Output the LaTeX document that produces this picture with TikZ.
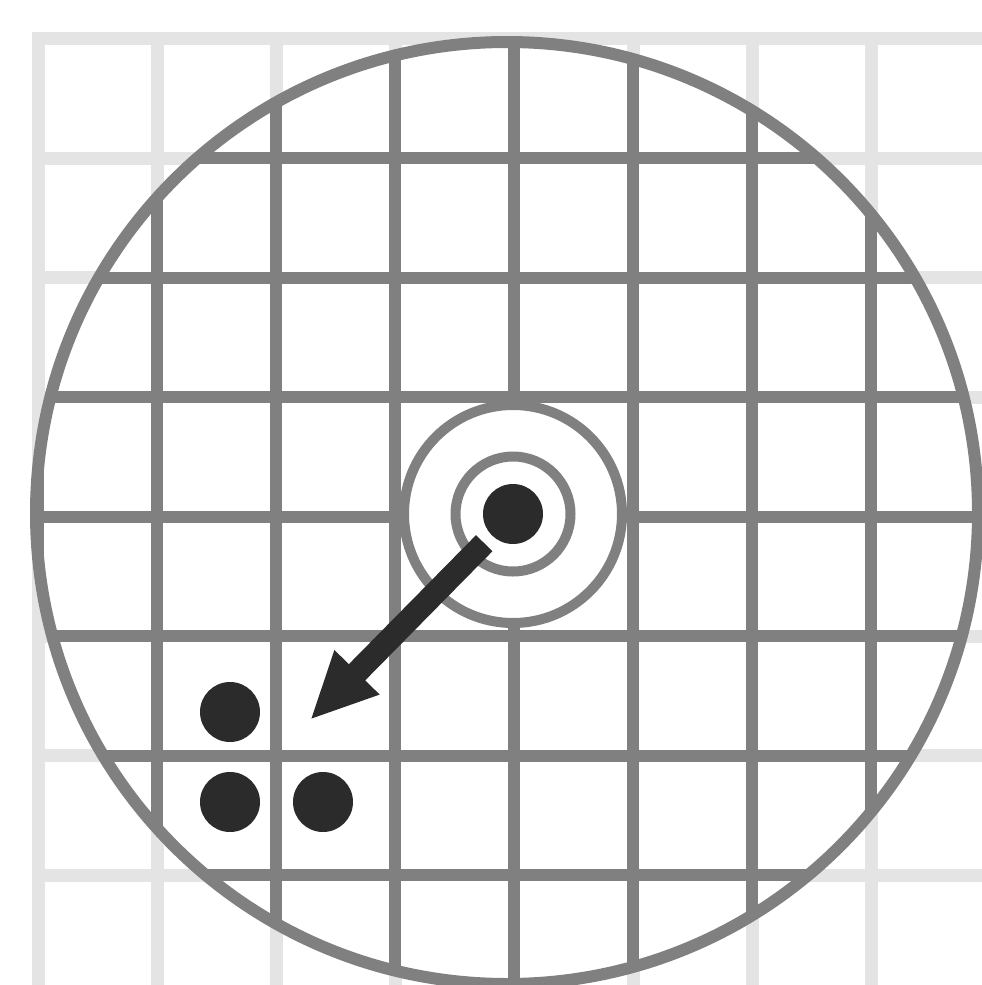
\documentclass[tikz,border=0pt]{standalone}
\usepackage{tikz}
\usetikzlibrary{positioning,arrows.meta}
\definecolor{gridlight}{HTML}{E4E4E4}
\definecolor{griddark}{HTML}{808080}
\definecolor{dotblack}{HTML}{2B2B2B}
\tikzset{
  gridlt/.style ={draw=gridlight, line width=13pt},
  griddk/.style ={draw=griddark, line width=12pt},
  rim/.style    ={draw=griddark, line width=12pt},
  ring/.style   ={draw=griddark, line width=10pt, fill=white},
  blob/.style   ={circle, fill=dotblack, minimum size=60pt, inner sep=0pt, outer sep=0pt},
  mv/.style     ={-{Triangle[length=67pt,width=58pt]}, line width=23pt, draw=dotblack}
}
\begin{document}
\begin{tikzpicture}[x=1pt,y=-1pt]
  \useasboundingbox (0,0) rectangle (982,985);
  \clip (0,0) rectangle (982,985);
  % --- light background grid
  \foreach \i in {0,...,7} {
    \draw[gridlt] ({38+119*\i},32) -- ({38+119*\i},990);
    \draw[gridlt] (32,{38.5+119.5*\i}) -- (990,{38.5+119.5*\i});
  }
  % --- field of view: dark grid inside the big circle
  \fill[white] (507,513) circle[radius=471];
  \begin{scope}
    \clip (507,513) circle[radius=471];
    \foreach \i in {0,...,7} {
      \draw[griddk] ({38+119*\i},0) -- ({38+119*\i},990);
      \draw[griddk] (0,{38.5+119.5*\i}) -- (990,{38.5+119.5*\i});
    }
  \end{scope}
  \draw[rim] (507,513) circle[radius=471];
  % --- target with rings
  \coordinate (c0) at (513,514);
  \draw[ring] (c0) circle[radius=109];
  \draw[ring] (c0) circle[radius=57.5];
  \node[blob] (ctr) at (c0) {};
  % --- neighbours
  \node[blob] (pa) at (230,712) {};
  \node[blob] (pb) at (230,802) {};
  \node[blob] (pc) at (323,802) {};
  \coordinate (tip) at (310,720);
  \draw[mv, shorten <=11pt] (ctr) -- (tip);
\end{tikzpicture}
\end{document}
